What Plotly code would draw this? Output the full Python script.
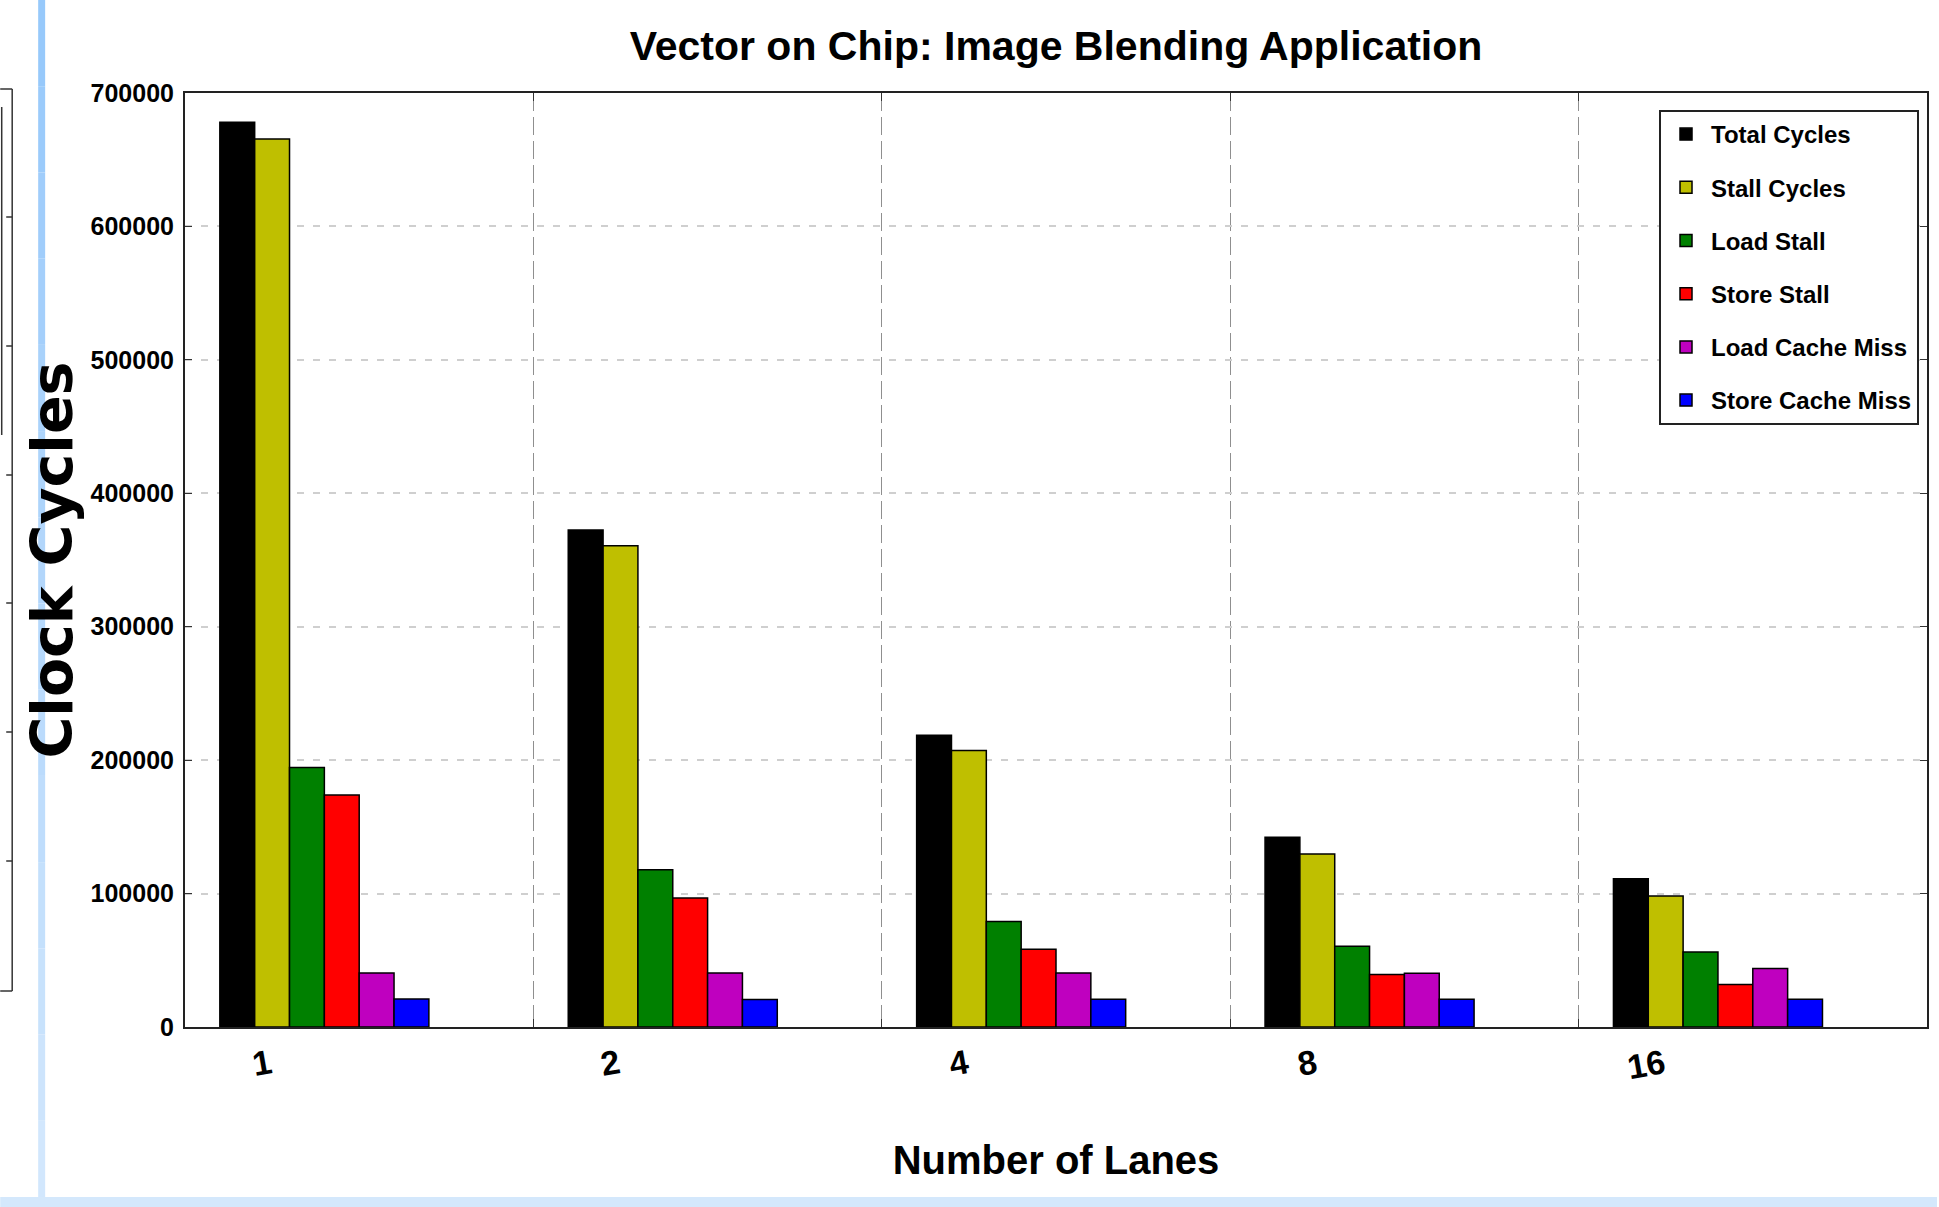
import numpy as np
import plotly.graph_objects as go

# ---------------- data ----------------
lanes = ["1", "2", "4", "8", "16"]
series_names = ["Total Cycles", "Stall Cycles", "Load Stall", "Store Stall",
                "Load Cache Miss", "Store Cache Miss"]
total_cycles = [678000, 372500, 218700, 142200, 111200]
stall_cycles = [665500, 360700, 207300, 129700, 98200]
load_stall = [194500, 117900, 79000, 60600, 56200]
store_stall = [173900, 96600, 58300, 39300, 31800]
load_cache_miss = [40400, 40500, 40500, 40300, 43800]
store_cache_miss = [20900, 20700, 20800, 20800, 20800]
y_tick_values = [0, 100000, 200000, 300000, 400000, 500000, 600000, 700000]
y_tick_labels = ["0", "100000", "200000", "300000", "400000", "500000", "600000", "700000"]

series_values = [total_cycles, stall_cycles, load_stall, store_stall,
                 load_cache_miss, store_cache_miss]
colors = ["#000000", "#bfbf00", "#008000", "#ff0000", "#bf00bf", "#0000ff"]

# ---------------- geometry ----------------
W, H = 1939, 1207
ML, MR, MT, MB = 185, 10, 93, 180
PW, PH = W - ML - MR, H - MT - MB

BAR_W = 0.1
GROUP_START = 0.1
LABEL_POS = 0.245

SANS = "Liberation Sans, Arial, sans-serif"
WIDE = "DejaVu Sans, Liberation Sans, sans-serif"


def px_x(p):
    return (p - ML) / PW


def px_y(p):
    return (H - MB - p) / PH


idx = np.arange(len(lanes))

fig = go.Figure()
for k, (name, vals, col) in enumerate(zip(series_names, series_values, colors)):
    fig.add_trace(go.Bar(
        x=idx + GROUP_START, y=vals, name=name,
        width=BAR_W, offset=k * BAR_W,
        marker=dict(color=col, line=dict(color="#000000", width=1.5)),
        legendgroup=name,
    ))

# invisible trace carrying the category tick labels on the second x axis
fig.add_trace(go.Scatter(x=idx + LABEL_POS, y=[0] * len(lanes), xaxis="x2",
                         mode="markers", marker=dict(opacity=0), showlegend=False,
                         hoverinfo="skip"))

shapes = []
# slide decoration: blue vertical strip with a gradient, bottom band
n_seg = 14
top_c = np.array([0x97, 0xc9, 0xfb])
bot_c = np.array([0xd2, 0xe7, 0xfd])
for s in range(n_seg):
    t = s / (n_seg - 1)
    c = (top_c * (1 - t) + bot_c * t).astype(int)
    y0p = s * H / n_seg
    y1p = (s + 1) * H / n_seg
    shapes.append(dict(type="rect", xref="paper", yref="paper",
                       x0=px_x(38), x1=px_x(45), y0=px_y(y1p), y1=px_y(y0p),
                       fillcolor="rgb(%d,%d,%d)" % tuple(c), line=dict(width=0), layer="below"))
shapes.append(dict(type="rect", xref="paper", yref="paper",
                   x0=px_x(0), x1=px_x(W), y0=px_y(H), y1=px_y(1197),
                   fillcolor="#d4e8fc", line=dict(width=0), layer="below"))
# fragment of the neighbouring chart's frame at the far left
frag = dict(color="#333333", width=1.5)
shapes.append(dict(type="line", xref="paper", yref="paper", x0=px_x(12), x1=px_x(12),
                   y0=px_y(89), y1=px_y(991), line=frag))
shapes.append(dict(type="line", xref="paper", yref="paper", x0=px_x(0), x1=px_x(12),
                   y0=px_y(89), y1=px_y(89), line=frag))
shapes.append(dict(type="line", xref="paper", yref="paper", x0=px_x(0), x1=px_x(12),
                   y0=px_y(991), y1=px_y(991), line=frag))
shapes.append(dict(type="line", xref="paper", yref="paper", x0=px_x(1.5), x1=px_x(1.5),
                   y0=px_y(107), y1=px_y(435), line=frag))
for ty in [217, 346, 475, 603, 732, 861]:
    shapes.append(dict(type="line", xref="paper", yref="paper", x0=px_x(6), x1=px_x(12),
                       y0=px_y(ty), y1=px_y(ty), line=frag))

fig.update_layout(
    width=W, height=H,
    margin=dict(l=ML, r=MR, t=MT, b=MB, pad=0),
    paper_bgcolor="white", plot_bgcolor="white",
    barmode="overlay",
    title=dict(text="Vector on Chip: Image Blending Application",
               x=0.5, xref="paper", xanchor="center",
               y=1 - 46 / H, yref="container", yanchor="middle",
               font=dict(family=SANS, size=41, color="black", weight="bold")),
    xaxis=dict(range=[0, len(lanes)], tick0=0, dtick=1,
               showticklabels=False, ticks="inside", ticklen=8, tickcolor="#333",
               showgrid=True, gridcolor="#8f8f8f", griddash="18px,6px", gridwidth=1,
               showline=True, linecolor="#222", linewidth=2, mirror="ticks",
               zeroline=False,
               title=dict(text="Number of Lanes", standoff=118,
                          font=dict(family=SANS, size=40, color="black", weight="bold"))),
    xaxis2=dict(range=[0, len(lanes)], overlaying="x", side="bottom",
                tickvals=list(idx + LABEL_POS), ticktext=lanes, tickangle=-10,
                ticks="", showgrid=False, showline=False, zeroline=False,
                ticklabelstandoff=11,
                tickfont=dict(family=SANS, size=34, color="black", weight="bold")),
    yaxis=dict(range=[0, 700000], tickvals=y_tick_values, ticktext=y_tick_labels,
               ticks="inside", ticklen=7, tickcolor="#333",
               showgrid=True, gridcolor="#cfcfcf", griddash="7px,9px", gridwidth=2,
               showline=True, linecolor="#222", linewidth=2, mirror="ticks",
               zeroline=False, ticklabelstandoff=4,
               tickfont=dict(family=SANS, size=25, color="black", weight="bold"),
               title=dict(text="Clock Cycles", standoff=0,
                          font=dict(family=WIDE, size=57, color="black", weight="bold"))),
    legend=dict(x=px_x(1921), y=px_y(110), xanchor="right", yanchor="top",
                bgcolor="white", bordercolor="#222", borderwidth=2,
                font=dict(family=SANS, size=24, color="black", weight="bold"),
                tracegroupgap=19, itemwidth=40),
    shapes=shapes,
    showlegend=True,
)

fig.write_html("out.html", config={"displayModeBar": False},
               post_script="document.body.style.margin='0';")
